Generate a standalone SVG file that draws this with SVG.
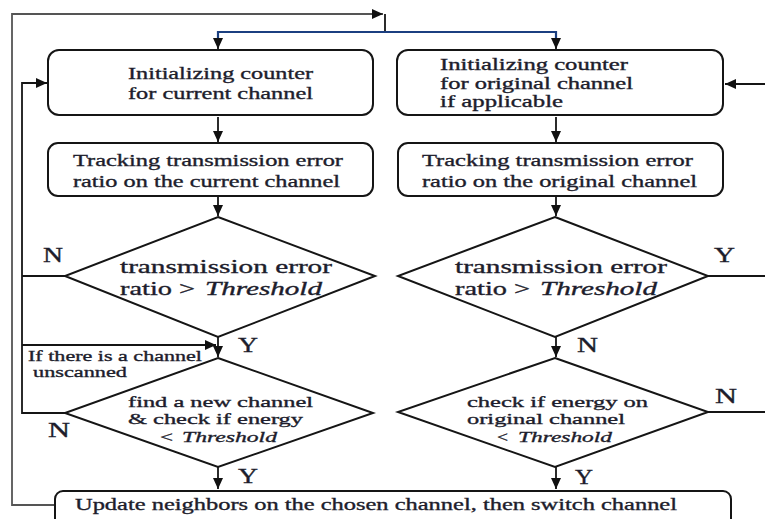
<svg xmlns="http://www.w3.org/2000/svg" width="765" height="519" viewBox="0 0 765 519">
<style>
.box{fill:#fff;stroke:#151515;stroke-width:2}
.ln{fill:none;stroke:#151515;stroke-width:1.8}
.gr{fill:none;stroke:#555;stroke-width:1.8}
.bl{fill:none;stroke:#1b3f80;stroke-width:2.2}
.t{font-family:"Liberation Serif","Times New Roman",serif;fill:#1d1d2c;stroke:#1d1d2c;stroke-width:0.35}
.s17{font-size:17px}
.s17b{font-size:16px}
.s18{font-size:19px}
.s16{font-size:15px}
.s15{font-size:15px}
.lab{font-size:22px}
.it{font-style:italic}
</style>
<defs>
<marker id="ah" markerUnits="userSpaceOnUse" markerWidth="12" markerHeight="10" refX="11" refY="5" orient="auto">
<path d="M0,0 L11,5 L0,10 z" fill="#111"/>
</marker>
</defs>

<g id="connectors">
<path class="gr" d="M55,505 H12 V14 H383" marker-end="url(#ah)"/>
<path class="ln" d="M385,14 V32"/>
<path class="bl" d="M386,32 H218 V40"/>
<path class="bl" d="M384,32 H556 V40"/>
<path class="ln" d="M218,38 V49" marker-end="url(#ah)"/>
<path class="ln" d="M556,38 V49" marker-end="url(#ah)"/>
<path class="ln" d="M765,84 H725" marker-end="url(#ah)"/>
<path class="ln" d="M65,413 H22 V83 H47" marker-end="url(#ah)"/>
<path class="ln" d="M65,276 H22"/>
<path class="ln" d="M22,345 H216" marker-end="url(#ah)"/>
<path class="ln" d="M218,117 V142" marker-end="url(#ah)"/>
<path class="ln" d="M556,117 V142" marker-end="url(#ah)"/>
<path class="ln" d="M218,197 V216" marker-end="url(#ah)"/>
<path class="ln" d="M556,197 V216" marker-end="url(#ah)"/>
<path class="ln" d="M218,337 V357" marker-end="url(#ah)"/>
<path class="ln" d="M556,337 V357" marker-end="url(#ah)"/>
<path class="ln" d="M218,467 V489" marker-end="url(#ah)"/>
<path class="ln" d="M556,467 V489" marker-end="url(#ah)"/>
<path class="ln" d="M708,276 H765"/>
<path class="ln" d="M708,412 H765"/>
</g>

<g id="init-current">
<rect class="box" x="48" y="50" width="325" height="65" rx="11"/>
<text class="t s17" x="128" y="79" textLength="185" lengthAdjust="spacingAndGlyphs">Initializing counter</text>
<text class="t s17" x="128" y="99" textLength="185" lengthAdjust="spacingAndGlyphs">for current channel</text>
</g>

<g id="init-original">
<rect class="box" x="397" y="50" width="326" height="65" rx="11"/>
<text class="t s17b" x="440" y="70" textLength="188" lengthAdjust="spacingAndGlyphs">Initializing counter</text>
<text class="t s17b" x="440" y="89" textLength="193" lengthAdjust="spacingAndGlyphs">for original channel</text>
<text class="t s17b" x="440" y="107" textLength="123" lengthAdjust="spacingAndGlyphs">if applicable</text>
</g>

<g id="track-current">
<rect class="box" x="48" y="143" width="325" height="53" rx="10"/>
<text class="t s17" x="73" y="166" textLength="270" lengthAdjust="spacingAndGlyphs">Tracking transmission error</text>
<text class="t s17" x="73" y="187" textLength="267" lengthAdjust="spacingAndGlyphs">ratio on the current channel</text>
</g>

<g id="track-original">
<rect class="box" x="398" y="143" width="325" height="53" rx="10"/>
<text class="t s17" x="422" y="166" textLength="271" lengthAdjust="spacingAndGlyphs">Tracking transmission error</text>
<text class="t s17" x="422" y="187" textLength="275" lengthAdjust="spacingAndGlyphs">ratio on the original channel</text>
</g>

<g id="decide-current">
<polygon class="box" points="218,217 375,276 218,337 65,276"/>
<text class="t s18" x="120" y="273" textLength="212" lengthAdjust="spacingAndGlyphs">transmission error</text>
<text class="t s18" x="120" y="295" textLength="75" lengthAdjust="spacingAndGlyphs">ratio &gt;</text>
<text class="t s18 it" x="205" y="295" textLength="117" lengthAdjust="spacingAndGlyphs">Threshold</text>
<text class="t lab" x="43" y="262" textLength="20" lengthAdjust="spacingAndGlyphs">N</text>
<text class="t lab" x="238" y="352" textLength="20" lengthAdjust="spacingAndGlyphs">Y</text>
</g>

<g id="decide-original">
<polygon class="box" points="555,217 708,276 555,337 398,276"/>
<text class="t s18" x="455" y="273" textLength="212" lengthAdjust="spacingAndGlyphs">transmission error</text>
<text class="t s18" x="455" y="295" textLength="75" lengthAdjust="spacingAndGlyphs">ratio &gt;</text>
<text class="t s18 it" x="540" y="295" textLength="117" lengthAdjust="spacingAndGlyphs">Threshold</text>
<text class="t lab" x="714" y="262" textLength="21" lengthAdjust="spacingAndGlyphs">Y</text>
<text class="t lab" x="577" y="352" textLength="21" lengthAdjust="spacingAndGlyphs">N</text>
</g>

<g id="unscanned-label">
<text class="t s15" x="28" y="361" textLength="174" lengthAdjust="spacingAndGlyphs">If there is a channel</text>
<text class="t s15" x="33" y="377" textLength="94" lengthAdjust="spacingAndGlyphs">unscanned</text>
</g>

<g id="find-channel">
<polygon class="box" points="218,358 373,413 218,467 65,413"/>
<text class="t s16" x="128" y="407" textLength="185" lengthAdjust="spacingAndGlyphs">find a new channel</text>
<text class="t s16" x="128" y="424" textLength="175" lengthAdjust="spacingAndGlyphs">&amp; check if energy</text>
<text class="t s16" x="160" y="442" textLength="13" lengthAdjust="spacingAndGlyphs">&lt;</text>
<text class="t s16 it" x="182" y="442" textLength="95" lengthAdjust="spacingAndGlyphs">Threshold</text>
<text class="t lab" x="48" y="437" textLength="22" lengthAdjust="spacingAndGlyphs">N</text>
<text class="t lab" x="238" y="483" textLength="20" lengthAdjust="spacingAndGlyphs">Y</text>
</g>

<g id="check-original">
<polygon class="box" points="555,358 708,412 555,467 398,412"/>
<text class="t s16" x="467" y="407" textLength="181" lengthAdjust="spacingAndGlyphs">check if energy on</text>
<text class="t s16" x="467" y="424" textLength="158" lengthAdjust="spacingAndGlyphs">original channel</text>
<text class="t s16" x="497" y="442" textLength="11" lengthAdjust="spacingAndGlyphs">&lt;</text>
<text class="t s16 it" x="518" y="442" textLength="94" lengthAdjust="spacingAndGlyphs">Threshold</text>
<text class="t lab" x="715" y="403" textLength="22" lengthAdjust="spacingAndGlyphs">N</text>
<text class="t lab" x="575" y="484" textLength="18" lengthAdjust="spacingAndGlyphs">Y</text>
</g>

<g id="update-switch">
<rect class="box" x="55" y="491" width="676" height="50" rx="8"/>
<text class="t s17" x="75" y="510" textLength="602" lengthAdjust="spacingAndGlyphs">Update neighbors on the chosen channel, then switch channel</text>
</g>
</svg>
